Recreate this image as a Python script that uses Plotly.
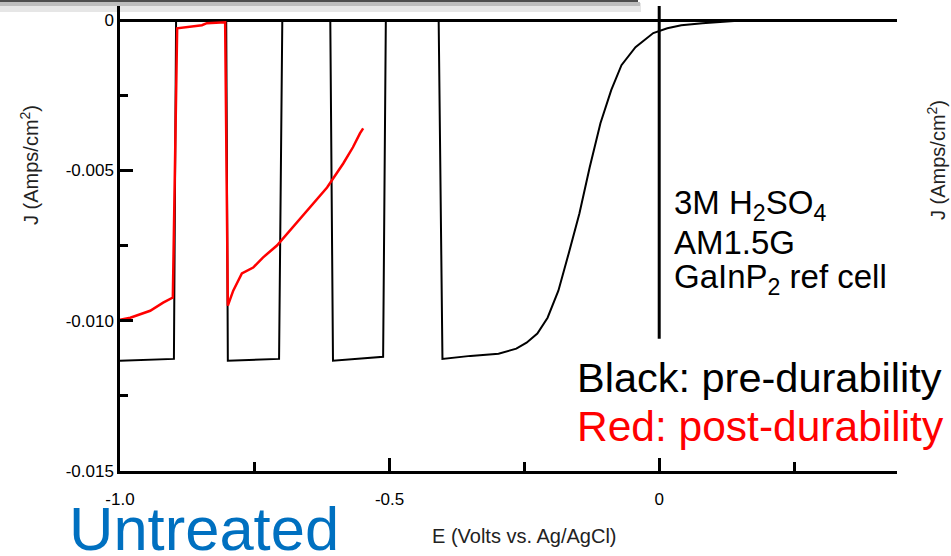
import plotly.graph_objects as go

# ---------------- data ----------------
black_V = [-1.000, -0.900, -0.896, -0.803, -0.800, -0.705, -0.699, -0.610, -0.605,
           -0.512, -0.507, -0.409, -0.402, -0.350, -0.298, -0.265, -0.246, -0.226,
           -0.207, -0.187, -0.168, -0.148, -0.129, -0.109, -0.089, -0.070, -0.044,
           -0.011, 0.015, 0.041, 0.080, 0.139, 0.441]
black_J = [-0.01133, -0.01127, 0.0, 0.0, -0.01133, -0.01127, 0.0, 0.0, -0.01133,
           -0.01120, 0.0, 0.0, -0.01127, -0.01117, -0.01110, -0.01093, -0.01073, -0.01043,
           -0.00990, -0.00900, -0.00777, -0.00643, -0.00490, -0.00343, -0.00233, -0.00150, -0.00090,
           -0.00043, -0.00027, -0.00017, -0.00010, -0.00003, 0.0]

red_V = [-1.000, -0.981, -0.944, -0.920, -0.902, -0.894, -0.848, -0.839, -0.805,
         -0.800, -0.790, -0.774, -0.753, -0.735, -0.709, -0.685, -0.653, -0.616,
         -0.586, -0.568, -0.555, -0.549]
red_J = [-0.00997, -0.00990, -0.00967, -0.00940, -0.00923, -0.00027, -0.00017, -0.00010, -0.00007,
         -0.00950, -0.00900, -0.00843, -0.00823, -0.00790, -0.00750, -0.00700, -0.00633, -0.00557,
         -0.00477, -0.00423, -0.00377, -0.00360]

marker_V = [0.0, 0.0]
marker_J = [0.00047, -0.0106]

x_tick_vals = [-1.0, -0.5, 0.0]
x_tick_text = ["-1.0", "-0.5", "0"]
x_minor_vals = [-0.75, -0.25, 0.25]
y_tick_vals = [0.0, -0.005, -0.010, -0.015]
y_tick_text = ["0", "-0.005", "-0.010", "-0.015"]
y_minor_vals = [-0.0025, -0.0075, -0.0125]

x_range = [-1.0, 0.441]
y_range = [-0.015, 0.00047]

FONT = "Liberation Sans, Arial, sans-serif"

# ---------------- figure ----------------
fig = go.Figure()
fig.add_trace(go.Scatter(x=marker_V, y=marker_J, mode="lines",
                         line=dict(color="black", width=3), showlegend=False, hoverinfo="skip"))
fig.add_trace(go.Scatter(x=black_V, y=black_J, mode="lines",
                         line=dict(color="black", width=2), showlegend=False))
fig.add_trace(go.Scatter(x=red_V, y=red_J, mode="lines",
                         line=dict(color="#ff0000", width=2.5), showlegend=False))

L, R, T, B = 120, 897, 6, 471
W, H = R - L, B - T


def px(p):
    return (p - L) / W


def py(p):
    return (B - p) / H


annotations = [
    dict(text="J (Amps/cm<sup>2</sup>)", x=px(29), y=py(165), textangle=-90,
         font=dict(size=20, color="#222"), xanchor="center", yanchor="middle"),
    dict(text="J (Amps/cm<sup>2</sup>)", x=px(936), y=py(160), textangle=-90,
         font=dict(size=20, color="#222"), xanchor="center", yanchor="middle"),
    dict(text="E (Volts vs. Ag/AgCl)", x=px(524), y=py(536),
         font=dict(size=20, color="#222"), xanchor="center", yanchor="middle"),
    dict(text="3M H<sub>2</sub>SO<sub>4</sub>", x=px(672), y=py(205),
         font=dict(size=33, color="black"), xanchor="left", yanchor="middle"),
    dict(text="AM1.5G", x=px(672), y=py(242),
         font=dict(size=33, color="black"), xanchor="left", yanchor="middle"),
    dict(text="GaInP<sub>2</sub> ref cell", x=px(672), y=py(279),
         font=dict(size=33, color="black"), xanchor="left", yanchor="middle"),
    dict(text="Black: pre-durability", x=px(575), y=py(377),
         font=dict(size=41.5, color="black"), xanchor="left", yanchor="middle"),
    dict(text="Red: post-durability", x=px(575), y=py(426),
         font=dict(size=42.5, color="#ff0000"), xanchor="left", yanchor="middle"),
    dict(text="Untreated", x=px(67), y=py(528),
         font=dict(size=61.5, color="#0070c0"), xanchor="left", yanchor="middle"),
]
for a in annotations:
    a.update(xref="paper", yref="paper", showarrow=False)

# slide decoration bar at the top
shapes = [
    dict(type="rect", xref="paper", yref="paper", x0=px(0), x1=px(641), y0=py(3), y1=py(12),
         fillcolor="#e6e6e6", line=dict(width=0), layer="below"),
    dict(type="rect", xref="paper", yref="paper", x0=px(0), x1=px(640), y0=py(2), y1=py(6),
         fillcolor="#bdbdbd", line=dict(width=0), layer="below"),
    dict(type="rect", xref="paper", yref="paper", x0=px(0), x1=px(638), y0=py(-1), y1=py(2),
         fillcolor="#4d4d4d", line=dict(width=0), layer="below"),
]

fig.update_layout(
    width=951, height=556,
    margin=dict(l=L, r=951 - R, t=T, b=556 - B),
    paper_bgcolor="white", plot_bgcolor="white",
    font=dict(family=FONT, color="black"),
    showlegend=False,
    annotations=annotations,
    shapes=shapes,
)
fig.update_xaxes(
    range=x_range, showgrid=False, zeroline=False,
    showline=True, linecolor="black", linewidth=2.5,
    tickmode="array", tickvals=x_tick_vals, ticktext=x_tick_text,
    ticks="inside", ticklen=13, tickwidth=2.5, tickcolor="black",
    tickfont=dict(size=17, color="black"), ticklabelstandoff=11,
    minor=dict(tickmode="array", tickvals=x_minor_vals, ticks="inside",
               ticklen=9, tickwidth=2.5, tickcolor="black", showgrid=False),
)
fig.update_yaxes(
    range=y_range, showgrid=False,
    zeroline=True, zerolinecolor="black", zerolinewidth=2.5,
    showline=True, linecolor="black", linewidth=2.5,
    tickmode="array", tickvals=y_tick_vals, ticktext=y_tick_text,
    ticks="inside", ticklen=13, tickwidth=2.5, tickcolor="black",
    tickfont=dict(size=17, color="black"), ticklabelstandoff=0,
    minor=dict(tickmode="array", tickvals=y_minor_vals, ticks="inside",
               ticklen=8, tickwidth=2.5, tickcolor="black", showgrid=False),
)

fig.write_html(
    "out.html",
    config={"displayModeBar": False},
    post_script="document.body.style.margin='0';document.body.style.padding='0';",
)
